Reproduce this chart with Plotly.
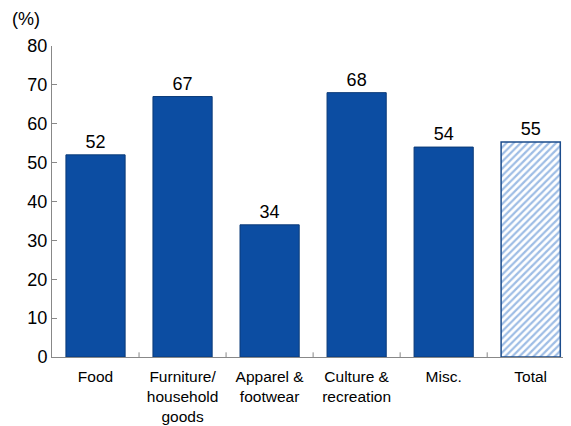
import plotly.graph_objects as go

categories = ["Food", "Furniture/<br>household<br>goods", "Apparel &<br>footwear", "Culture &<br>recreation", "Misc.", "Total"]
values = [52, 67, 34, 68, 54, 55]
labels = ["52", "67", "34", "68", "54", "55"]

FONT = "Arial, Liberation Sans"
fig = go.Figure()
fig.add_trace(go.Bar(
    x=categories[:5], y=values[:5], text=labels[:5], textposition="outside",
    marker=dict(color="#0C4DA2", line=dict(color="#0A3A78", width=1)),
    width=0.68, textfont=dict(size=18, color="#000", family=FONT),
    cliponaxis=False,
))
fig.add_trace(go.Bar(
    x=categories[5:], y=[55.3], text=labels[5:], textposition="outside",
    marker=dict(color="white", line=dict(color="#1B4C8C", width=1.5),
                pattern=dict(shape="/", fgcolor="#3E7BCB", bgcolor="white", size=5, solidity=0.45)),
    width=0.68, textfont=dict(size=18, color="#000", family=FONT),
    cliponaxis=False,
))
fig.update_layout(
    width=571, height=426, showlegend=False,
    plot_bgcolor="white", paper_bgcolor="white",
    margin=dict(l=44, r=10, t=38, b=77),
    font=dict(family=FONT, size=16, color="#000"),
)
fig.update_yaxes(range=[0, 80], dtick=10, showline=True, linecolor="#888", linewidth=1,
                 ticks="inside", ticklen=5, tickcolor="#888", showgrid=False, zeroline=False,
                 tickfont=dict(size=18), automargin=False)
fig.update_xaxes(range=[-0.5, 5.44], showline=True, linecolor="#888", linewidth=1,
                 ticks="", showgrid=False, tickfont=dict(size=15.5), ticklabelstandoff=5,
                 automargin=False)
for i in range(1, 6):
    fig.add_shape(type="line", xref="x", yref="paper", x0=i - 0.5, x1=i - 0.5, y0=0, y1=0.015,
                  line=dict(color="#888", width=1))
fig.add_annotation(text="(%)", xref="paper", yref="paper", x=0, xshift=-42, y=1.0, yshift=15,
                   xanchor="left", yanchor="bottom", showarrow=False, font=dict(size=18))
fig.write_html("out.html")
